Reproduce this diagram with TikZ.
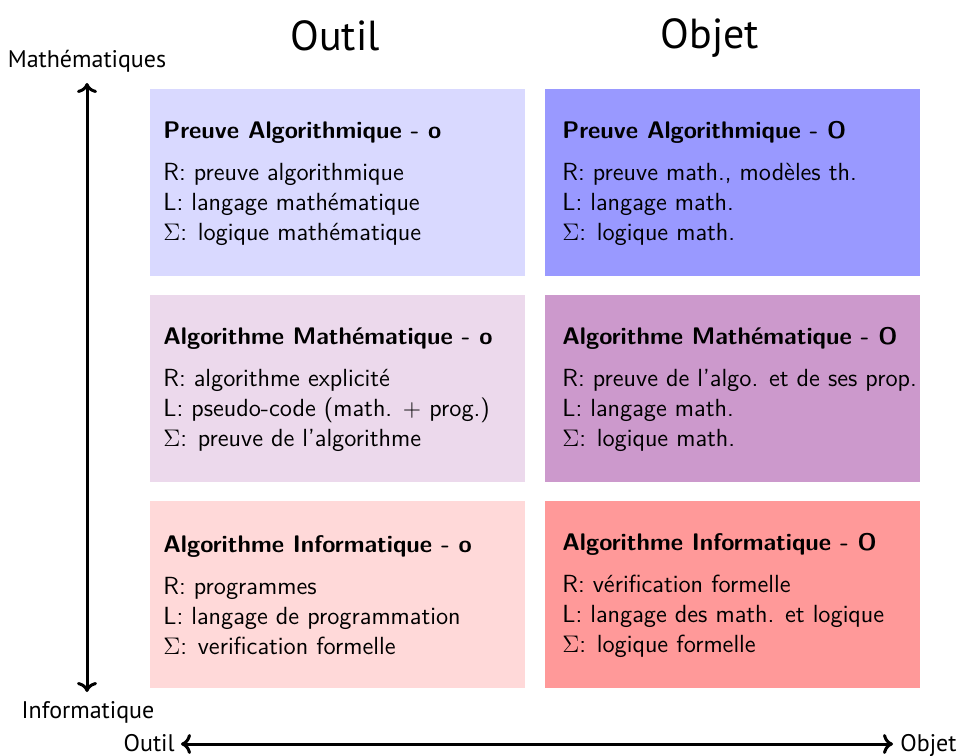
\documentclass[tikz,border=0pt]{standalone}
\usepackage{fontspec}
\newfontfamily\labfont{PT Sans}
\usetikzlibrary{arrows.meta}
\colorlet{cAl}{blue!15}
\colorlet{cAr}{blue!40}
\colorlet{cBl}{violet!15}
\colorlet{cBr}{violet!40}
\colorlet{cCl}{red!15}
\colorlet{cCr}{red!40}
\newcommand{\celltitle}[1]{{\fontsize{12}{15}\selectfont\bfseries #1}}
\begin{document}
\begin{tikzpicture}[x=0.5pt,y=-0.5pt,
  cell/.style={rectangle,draw=none,inner sep=0pt,minimum width=187.5pt,minimum height=93.5pt,anchor=north west},
  celltext/.style={anchor=north west,inner sep=0pt,align=left,font=\sffamily\fontsize{12.4}{15}\selectfont},
  axis/.style={line width=1.5pt,{To[length=5pt,width=10pt]}-{To[length=5pt,width=10pt]}},
  head/.style={font=\labfont\fontsize{21}{24}\selectfont,inner sep=0pt},
  lab/.style={font=\labfont\fontsize{12}{14}\selectfont,inner sep=0pt}]
\useasboundingbox[fill=white] (0,0) rectangle (960,756);

% cells
\node[cell,fill=cAl] (A1) at (150,89) {};
\node[cell,fill=cAr] (A2) at (545,89) {};
\node[cell,fill=cBl] (B1) at (150,295) {};
\node[cell,fill=cBr] (B2) at (545,295) {};
\node[cell,fill=cCl] (C1) at (150,501) {};
\node[cell,fill=cCr] (C2) at (545,501) {};

% texts
\node[celltext] (tA1) at (163,121) {\celltitle{Preuve Algorithmique - o}\\[6pt]
  R: preuve algorithmique\\ L: langage math\'ematique\\ $\Sigma$: logique math\'ematique};
\node[celltext] (tA2) at (562,121) {\celltitle{Preuve Algorithmique - O}\\[6pt]
  R: preuve math., mod\`eles th.\\ L: langage math.\\ $\Sigma$: logique math.};
\node[celltext] (tB1) at (163,327) {\celltitle{Algorithme Math\'ematique - o}\\[6pt]
  R: algorithme explicit\'e\\ L: pseudo-code (math. $+$ prog.)\\ $\Sigma$: preuve de l'algorithme};
\node[celltext] (tB2) at (562,327) {\celltitle{Algorithme Math\'ematique - O}\\[6pt]
  R: preuve de l'algo. et de ses prop.\\ L: langage math.\\ $\Sigma$: logique math.};
\node[celltext] (tC1) at (163,535) {\celltitle{Algorithme Informatique - o}\\[6pt]
  R: programmes\\ L: langage de programmation\\ $\Sigma$: verification formelle};
\node[celltext] (tC2) at (562,533) {\celltitle{Algorithme Informatique - O}\\[6pt]
  R: v\'erification formelle\\ L: langage des math. et logique\\ $\Sigma$: logique formelle};

% headers
\node[head,anchor=base] (hO) at (335,50) {Outil};
\node[head,anchor=base] (hJ) at (710,48) {Objet};

% axes
\coordinate (vtop) at (87,83);
\coordinate (vbot) at (87,692);
\coordinate (hleft) at (181,744);
\coordinate (hright) at (893,744);
\draw[axis] (vbot) -- (vtop);
\draw[axis] (hleft) -- (hright);

\node[lab,anchor=base] (lM) at (87,67) {Math\'ematiques};
\node[lab,anchor=base] (lI) at (88,718) {Informatique};
\node[lab,anchor=base east] (lO) at (175,751) {Outil};
\node[lab,anchor=base west] (lJ) at (900,751) {Objet};
\end{tikzpicture}
\end{document}
